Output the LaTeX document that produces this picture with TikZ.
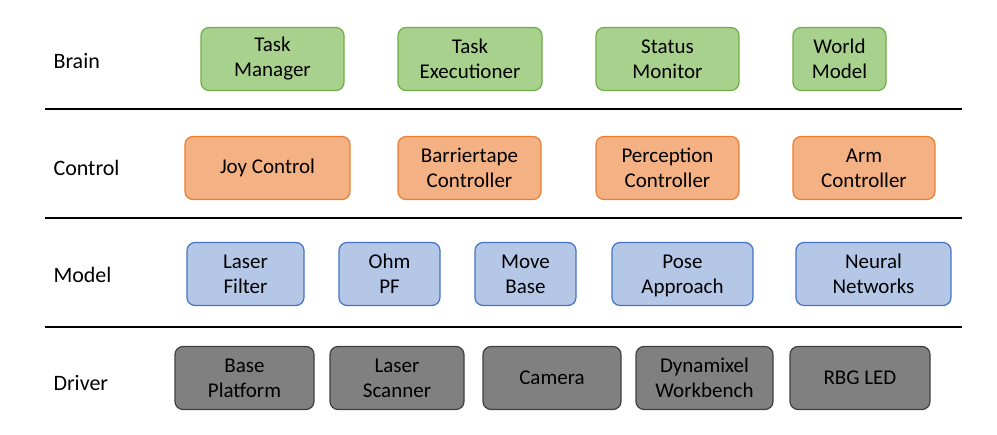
\documentclass[tikz,border=0pt]{standalone}
\usepackage{fontspec}
\setmainfont{Carlito}
\begin{document}
\begin{tikzpicture}[x=1pt,y=-1pt,
  box/.style={draw,line width=1.2pt,rounded corners=8pt,align=center,font=\fontsize{21}{25}\selectfont,inner sep=0pt},
  green/.style={box,fill={rgb,255:red,169;green,209;blue,142},draw={rgb,255:red,112;green,173;blue,71}},
  orange/.style={box,fill={rgb,255:red,244;green,177;blue,131},draw={rgb,255:red,237;green,125;blue,49}},
  blue/.style={box,fill={rgb,255:red,180;green,199;blue,231},draw={rgb,255:red,68;green,114;blue,196}},
  gray/.style={box,fill={rgb,255:red,128;green,128;blue,128},draw={rgb,255:red,64;green,64;blue,64}},
  lbl/.style={anchor=west,font=\fontsize{22}{26}\selectfont},
  sep/.style={line width=1.5pt}]
\useasboundingbox (0,0) rectangle (997,435);
\def\B#1#2#3#4#5#6{\node[#1,minimum width={#4-#3},minimum height=63] (#2) at ({(#3+#4)/2},#5) {#6};}
\node[lbl] (lb) at (50,61) {Brain};
\node[lbl] (lc) at (50,168) {Control};
\node[lbl] (lm) at (50,275) {Model};
\node[lbl] (ld) at (50,383) {Driver};
\B{green}{tm}{201}{344}{59}{Task\\Manager}
\B{green}{te}{398}{542}{59}{Task\\Executioner}
\B{green}{sm}{596}{739}{59}{Status\\Monitor}
\B{green}{wm}{793}{886}{59}{World\\Model}
\B{orange}{jc}{185}{350}{168}{Joy Control}
\B{orange}{bc}{398}{541}{168}{Barriertape\\Controller}
\B{orange}{pc}{596}{739}{168}{Perception\\Controller}
\B{orange}{ac}{793}{935}{168}{Arm\\Controller}
\B{blue}{lf}{187}{304}{274}{Laser\\Filter}
\B{blue}{op}{339}{440}{274}{Ohm\\PF}
\B{blue}{mb}{475}{576}{274}{Move\\Base}
\B{blue}{pa}{612}{753}{274}{\strut Pose\\Approach}
\B{blue}{nn}{796}{951}{274}{Neural\\Networks}
\B{gray}{bp}{175}{314}{378}{Base\\Platform}
\B{gray}{ls}{330}{464}{378}{Laser\\Scanner}
\B{gray}{ca}{483}{621}{378}{Camera}
\B{gray}{dw}{636}{773}{378}{Dynamixel\\Workbench}
\B{gray}{rl}{790}{930}{378}{RBG LED}
\coordinate (s1a) at (45,109); \coordinate (s1b) at (962,109);
\coordinate (s2a) at (45,218); \coordinate (s2b) at (962,218);
\coordinate (s3a) at (45,327); \coordinate (s3b) at (962,327);
\draw[sep] (s1a) -- (s1b);
\draw[sep] (s2a) -- (s2b);
\draw[sep] (s3a) -- (s3b);
\end{tikzpicture}
\end{document}
